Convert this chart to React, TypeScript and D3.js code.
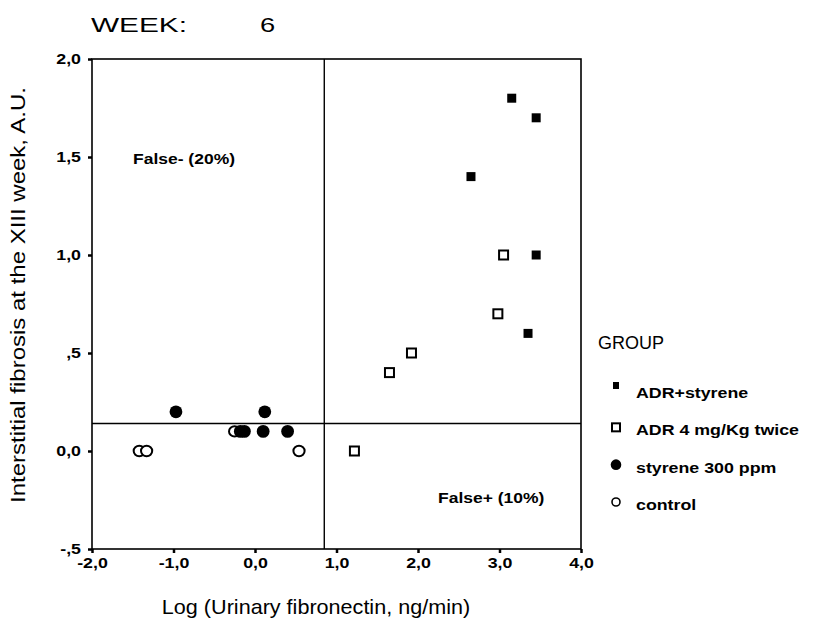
import React, { useRef, useEffect } from "react";
import * as d3 from "d3";

// data: [log fibronectin, fibrosis]
const adrStyrene: [number, number][] = [[3.15, 1.8], [3.45, 1.7], [2.65, 1.4], [3.45, 1.0], [3.35, 0.6]];
const adrOnly: [number, number][] = [[3.05, 1.0], [2.98, 0.7], [1.92, 0.5], [1.65, 0.4], [1.22, 0.0]];
const styrene: [number, number][] = [[-0.97, 0.2], [0.12, 0.2], [-0.18, 0.1], [-0.13, 0.1], [0.1, 0.1], [0.4, 0.1]];
const control: [number, number][] = [[-0.25, 0.1], [-1.42, 0.0], [-1.33, 0.0], [0.54, 0.0]];

const groupNames = ["ADR+styrene", "ADR 4 mg/Kg twice", "styrene 300 ppm", "control"];
const xTicks = [-2, -1, 0, 1, 2, 3, 4];
const yTicks = [-0.5, 0, 0.5, 1, 1.5, 2];
const cutX = 0.85; // threshold lines
const cutY = 0.14;

const W = 814, H = 644;
const FONT = "'Liberation Sans', Arial, sans-serif";
const S = 1.27; // the scanned figure has wide lettering

// SPSS style: 0,5 -> ,5  and -0,5 -> -,5
const fmt = (v: number) => {
  let s = v.toFixed(1).replace(".", ",");
  if (v !== 0 && Math.abs(v) < 1) s = s.replace("0,", ",");
  return s;
};

const App = () => {
  const ref = useRef<SVGSVGElement>(null);

  useEffect(() => {
    const svg = d3.select(ref.current);
    svg.selectAll("*").remove();

    const x = d3.scaleLinear().domain([-2, 4]).range([92, 581]);
    const y = d3.scaleLinear().domain([-0.5, 2]).range([549, 59]);

    // frame
    svg.append("rect")
      .attr("x", x(-2)).attr("y", y(2))
      .attr("width", x(4) - x(-2)).attr("height", y(-0.5) - y(2))
      .attr("fill", "none").attr("stroke", "#000").attr("stroke-width", 1.6);

    // axes (ticks + labels only, the frame draws the lines)
    const yAxis = svg.append("g")
      .attr("transform", `translate(${x(-2)},0)`)
      .call(d3.axisLeft(y).tickValues(yTicks).tickFormat(d => fmt(+d)).tickSize(4));
    const xAxis = svg.append("g")
      .attr("transform", `translate(0,${y(-0.5)})`)
      .call(d3.axisBottom(x).tickValues(xTicks).tickFormat(d => fmt(+d)).tickSize(4).tickPadding(5));
    [yAxis, xAxis].forEach(a => {
      a.select(".domain").remove();
      a.selectAll("line").attr("stroke-width", 2.5);
      a.selectAll("text")
        .style("font-family", FONT).style("font-size", "14px")
        .style("font-weight", "bold").attr("fill", "#000");
    });
    yAxis.selectAll("text").attr("x", 0).attr("transform", `translate(-11,0) scale(${S},1)`);
    xAxis.selectAll("text").attr("transform", `scale(${S},1)`);

    // threshold lines
    svg.append("line")
      .attr("x1", x(cutX)).attr("x2", x(cutX)).attr("y1", y(2)).attr("y2", y(-0.5))
      .attr("stroke", "#000").attr("stroke-width", 1.4);
    svg.append("line")
      .attr("x1", x(-2)).attr("x2", x(4)).attr("y1", y(cutY)).attr("y2", y(cutY))
      .attr("stroke", "#000").attr("stroke-width", 1.4);

    // points
    const pts = svg.append("g");
    pts.selectAll(".fs").data(adrStyrene).join("rect")
      .attr("x", d => x(d[0]) - 4.5).attr("y", d => y(d[1]) - 4.5)
      .attr("width", 9).attr("height", 9).attr("fill", "#000");
    pts.selectAll(".os").data(adrOnly).join("rect")
      .attr("x", d => x(d[0]) - 4.5).attr("y", d => y(d[1]) - 4.5)
      .attr("width", 9).attr("height", 9)
      .attr("fill", "#fff").attr("stroke", "#000").attr("stroke-width", 2);
    pts.selectAll(".oc").data(control).join("ellipse")
      .attr("cx", d => x(d[0])).attr("cy", d => y(d[1]))
      .attr("rx", 5.6).attr("ry", 5.2)
      .attr("fill", "#fff").attr("stroke", "#000").attr("stroke-width", 2);
    pts.selectAll(".fc").data(styrene).join("circle")
      .attr("cx", d => x(d[0])).attr("cy", d => y(d[1]))
      .attr("r", 6.4).attr("fill", "#000");

    const txt = (s: string, tx: number, ty: number, size: number, sx: number, weight = "normal") =>
      svg.append("text")
        .attr("transform", `translate(${tx},${ty}) scale(${sx},1)`)
        .text(s)
        .style("font-family", FONT).style("font-size", `${size}px`)
        .style("font-weight", weight).attr("fill", "#000");

    txt("False- (20%)", 133, 164, 14, 1.25, "bold");
    txt("False+ (10%)", 438, 503, 14, 1.25, "bold");
    txt("WEEK:", 91, 32, 21, 1.42);
    txt("6", 260, 32, 21, 1.3);

    // axis titles
    txt("Log (Urinary fibronectin, ng/min)", 316, 614, 20, 1.08).attr("text-anchor", "middle");
    svg.append("text")
      .attr("transform", "translate(25,295) rotate(-90) scale(1.2,1)")
      .attr("text-anchor", "middle")
      .text("Interstitial fibrosis at the XIII week, A.U.")
      .style("font-family", FONT).style("font-size", "20px").attr("fill", "#000");

    // legend
    txt("GROUP", 598, 349, 18, 1.0);
    const ly = d3.scalePoint<string>().domain(groupNames).range([393, 505]);
    const leg = svg.append("g");
    groupNames.forEach((g, i) => {
      const cy = ly(g)!;
      const cx = 616;
      const my = cy - (i === 0 ? 7 : 3); // markers sit a little above the text
      if (i === 0) leg.append("rect").attr("x", cx - 3).attr("y", my - 4).attr("width", 6).attr("height", 7).attr("fill", "#000");
      if (i === 1) leg.append("rect").attr("x", cx - 4).attr("y", my - 4).attr("width", 8).attr("height", 8)
        .attr("fill", "#fff").attr("stroke", "#000").attr("stroke-width", 2);
      if (i === 2) leg.append("circle").attr("cx", cx).attr("cy", my).attr("r", 5.3).attr("fill", "#000");
      if (i === 3) leg.append("circle").attr("cx", cx).attr("cy", my).attr("r", 4)
        .attr("fill", "#fff").attr("stroke", "#000").attr("stroke-width", 1.6);
      txt(g, 636, cy + 5, 14, S, "bold");
    });
  }, []);

  return (
    <svg ref={ref} width={W} height={H}
      style={{ position: "absolute", left: 0, top: 0, background: "#fff" }} />
  );
};

export default App;
